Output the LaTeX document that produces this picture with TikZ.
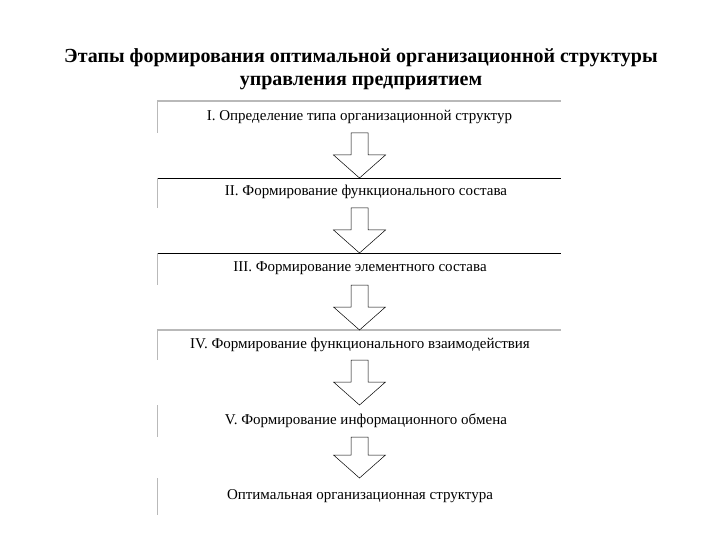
\documentclass[tikz,border=0pt]{standalone}
\usepackage{fontspec}
\setmainfont{Liberation Serif}
\definecolor{rulegray}{RGB}{185,185,185}
\usetikzlibrary{calc}

\begin{document}
\begin{tikzpicture}[x=1pt,y=-1pt,
  stagetext/.style={font=\fontsize{15}{18}\selectfont,inner sep=0pt},
  graytop/.style={draw=rulegray,line width=1.3pt},
  blacktop/.style={draw=black,line width=0.9pt},
  leftedge/.style={draw=rulegray,line width=0.9pt},
  blockarrow/.style={draw=black,line width=0.5pt,fill=white,line join=miter}
]
  \useasboundingbox (0,0) rectangle (720,540);
  \node[font=\bfseries\fontsize{20}{23}\selectfont,align=center] (title) at (361,69)
    {Этапы формирования оптимальной организационной структуры\\управления предприятием};

  % box edges
  \coordinate (top1) at (359.5,101); \coordinate (bot1) at (359.5,133);
  \coordinate (top2) at (359.5,178); \coordinate (bot2) at (359.5,208);
  \coordinate (top3) at (359.5,253); \coordinate (bot3) at (359.5,285);
  \coordinate (top4) at (359.5,330); \coordinate (bot4) at (359.5,360);
  \coordinate (top5) at (359.5,405); \coordinate (bot5) at (359.5,437);
  \coordinate (top6) at (359.5,478); \coordinate (bot6) at (359.5,515);

  \draw[graytop] ($(top1)+(-202.5,0)$) -- ($(top1)+(201.5,0)$);
  \draw[blacktop] ($(top2)+(-202.5,0)$) -- ($(top2)+(201.5,0)$);
  \draw[blacktop] ($(top3)+(-202.5,0)$) -- ($(top3)+(201.5,0)$);
  \draw[graytop] ($(top4)+(-202.5,0)$) -- ($(top4)+(201.5,0)$);
  \foreach \k in {1,...,6}
    \draw[leftedge] ($(top\k)+(-202.5,0)$) -- ($(bot\k)+(-202.5,0)$);

  % stages
  \node[stagetext] (stage1) at (359.5,117) {I. Определение типа организационной структур};
  \node[stagetext] (stage2) at (366,192) {II. Формирование функционального состава};
  \node[stagetext] (stage3) at (360,268) {III. Формирование элементного состава};
  \node[stagetext] (stage4) at (360,345) {IV. Формирование функционального взаимодействия};
  \node[stagetext] (stage5) at (366,421) {V. Формирование информационного обмена};
  \node[stagetext] (stage6) at (360,496) {Оптимальная организационная структура};

  % block arrows
  \foreach \k/\m in {1/2,2/3,3/4,4/5,5/6}
    \draw[blockarrow] ($(bot\k)+(-8.5,0)$) -- ($(top\m)+(-8.5,-23)$) -- ($(top\m)+(-26,-23)$)
      -- (top\m) -- ($(top\m)+(26,-23)$) -- ($(top\m)+(8.5,-23)$) -- ($(bot\k)+(8.5,0)$) -- cycle;
\end{tikzpicture}
\end{document}
